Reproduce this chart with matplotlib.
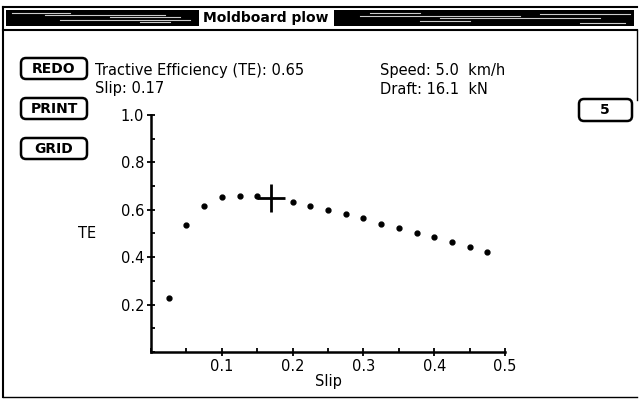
import matplotlib
matplotlib.use("Agg")
import matplotlib.pyplot as plt
from matplotlib.patches import FancyBboxPatch, Rectangle
from matplotlib.ticker import MultipleLocator

# data (the point under the cursor cross is hidden)
slip = [0.025, 0.05, 0.075, 0.10, 0.125, 0.15, 0.20, 0.225, 0.25,
        0.275, 0.30, 0.325, 0.35, 0.375, 0.40, 0.425, 0.45, 0.475]
te = [0.226, 0.535, 0.618, 0.653, 0.658, 0.658, 0.633, 0.615, 0.599,
      0.582, 0.566, 0.542, 0.525, 0.504, 0.487, 0.463, 0.442, 0.422]
cur_slip = 0.17
cur_te = 0.65
speed = 5.0
draft = 16.1
buttons = ["REDO", "PRINT", "GRID"]

W, H = 640, 400
fig = plt.figure(figsize=(6.4, 4.0), dpi=100)
fig.patch.set_facecolor("white")

# window chrome in pixel coords
bg = fig.add_axes([0, 0, 1, 1])
bg.set_xlim(0, W)
bg.set_ylim(H, 0)
bg.axis("off")

bg.plot([3, 637], [7, 7], color="black", lw=1.5)
bg.add_patch(Rectangle((6, 10), 628, 16, facecolor="black", edgecolor="none"))
for yy, x0, x1 in [(13, 12, 70), (15, 45, 165), (17, 110, 180), (20, 60, 190),
                   (22, 140, 170), (13, 370, 420), (16, 360, 520), (18, 440, 600),
                   (21, 420, 470), (14, 540, 630), (23, 580, 625)]:
    bg.plot([x0, x1], [yy, yy], color="white", lw=0.8, alpha=0.8)
bg.add_patch(Rectangle((199, 9), 135, 18, facecolor="white", edgecolor="none"))
bg.text(266, 18, "Moldboard plow", ha="center", va="center",
        fontsize=10, fontweight="bold", family="DejaVu Sans")
bg.plot([3, 637], [30, 30], color="black", lw=1.5)
bg.plot([3, 3], [7, 397], color="black", lw=1.5)
bg.plot([637, 637], [30, 100], color="black", lw=1)
bg.plot([3, 637], [397, 397], color="black", lw=1)

for i, name in enumerate(buttons):
    y0 = 58 + i * 40
    bg.add_patch(FancyBboxPatch((21, y0), 66, 21, boxstyle="round,pad=0,rounding_size=5",
                                facecolor="white", edgecolor="black", lw=1.8))
    bg.text(54, y0 + 11, name, ha="center", va="center", fontsize=10, fontweight="bold")
bg.add_patch(FancyBboxPatch((579, 99), 53, 22, boxstyle="round,pad=0,rounding_size=5",
                            facecolor="white", edgecolor="black", lw=1.8))
bg.text(605, 110, "5", ha="center", va="center", fontsize=10, fontweight="bold")

bg.text(95, 70, f"Tractive Efficiency (TE): {cur_te:.2f}", ha="left", va="center", fontsize=10.5)
bg.text(95, 89, f"Slip: {cur_slip:.2f}", ha="left", va="center", fontsize=10.5)
bg.text(380, 70, f"Speed: {speed:.1f}  km/h", ha="left", va="center", fontsize=10.5)
bg.text(380, 89, f"Draft: {draft:.1f}  kN", ha="left", va="center", fontsize=10.5)

# plot area
ax = fig.add_axes([151 / W, 48 / H, (505 - 151) / W, (352 - 115) / H])
ax.patch.set_alpha(0)
ax.plot(slip, te, "o", color="black", ms=3.5, ls="none")
ax.plot([cur_slip], [cur_te], "+", color="black", ms=20, mew=2)
ax.set_xlim(0, 0.5)
ax.set_ylim(0, 1.0)
for s in ["top", "right"]:
    ax.spines[s].set_visible(False)
for s in ["left", "bottom"]:
    ax.spines[s].set_linewidth(1.8)
ax.set_xticks([0.1, 0.2, 0.3, 0.4, 0.5])
ax.set_xticklabels(["0.1", "0.2", "0.3", "0.4", "0.5"])
ax.set_yticks([0.2, 0.4, 0.6, 0.8, 1.0])
ax.set_yticklabels(["0.2", "0.4", "0.6", "0.8", "1.0"])
ax.xaxis.set_minor_locator(MultipleLocator(0.05))
ax.yaxis.set_minor_locator(MultipleLocator(0.1))
ax.tick_params(which="major", direction="inout", length=6, width=1.3, labelsize=10.5, pad=2)
ax.tick_params(which="minor", direction="in", length=3, width=1.3)
ax.set_xlabel("Slip", fontsize=10.5, labelpad=0)
ax.set_ylabel("TE", fontsize=10.5, rotation=0, labelpad=24, va="center")

fig.savefig("out.png", dpi=100)
